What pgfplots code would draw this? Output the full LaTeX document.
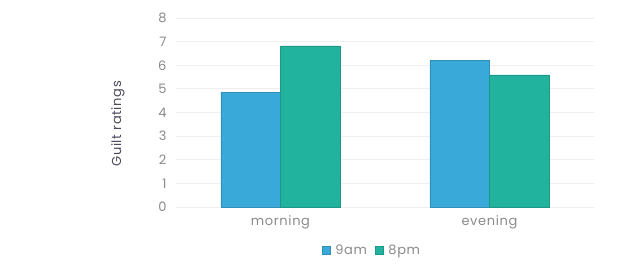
\documentclass[border=0pt]{standalone}
\usepackage{pgfplots}
\pgfplotsset{compat=1.18}
\usepackage{fontspec}
\setmainfont{Poppins}[LetterSpace=5]
\definecolor{cblue}{HTML}{38A9D9}
\definecolor{cgreen}{HTML}{21B39E}
\definecolor{tickgray}{HTML}{8A8A8A}
\definecolor{labgray}{HTML}{4A4A5A}
\definecolor{gridc}{HTML}{EFEFEF}
\begin{document}
\begin{tikzpicture}
\useasboundingbox (0,0) rectangle (620pt,271pt);
\begin{axis}[
  at={(176pt,64pt)}, anchor=south west,
  scale only axis, width=418pt, height=189pt,
  xmin=-0.5, xmax=1.5, ymin=0, ymax=8,
  ybar, bar width=0.2857,
  xtick={0,1}, xticklabels={morning,evening},
  ytick={0,1,...,8},
  axis line style={draw=none},
  major tick length=0pt,
  ymajorgrids, grid style={gridc, line width=0.8pt},
  ticklabel style={font=\fontsize{13}{15}\selectfont, text=tickgray},
  /pgf/number format/assume math mode=true,
  yticklabel style={xshift=-6pt},
  xticklabel style={yshift=-5pt},
  ylabel={Guilt ratings},
  ylabel style={at={(axis description cs:-0.139,0.44)}, anchor=center, rotate=0, font=\fontsize{13}{15}\selectfont, text=labgray},
  legend style={at={(0.469,-0.23)}, anchor=center, draw=none, font=\fontsize{13}{15}\selectfont, text=tickgray, column sep=3pt, /tikz/every even column/.append style={column sep=6pt}},
  legend columns=2,
  legend image code/.code={\fill[#1] (0pt,-4pt) rectangle (8pt,4pt);},
]
\addplot[fill=cblue, draw=cblue!85!black, line width=0.4pt, bar shift=-0.14285] coordinates {(0,4.85) (1,6.2)};
\addplot[fill=cgreen, draw=cgreen!85!black, line width=0.4pt, bar shift=0.14285] coordinates {(0,6.82) (1,5.59)};
\legend{9am,8pm}
\end{axis}
\end{tikzpicture}
\end{document}
